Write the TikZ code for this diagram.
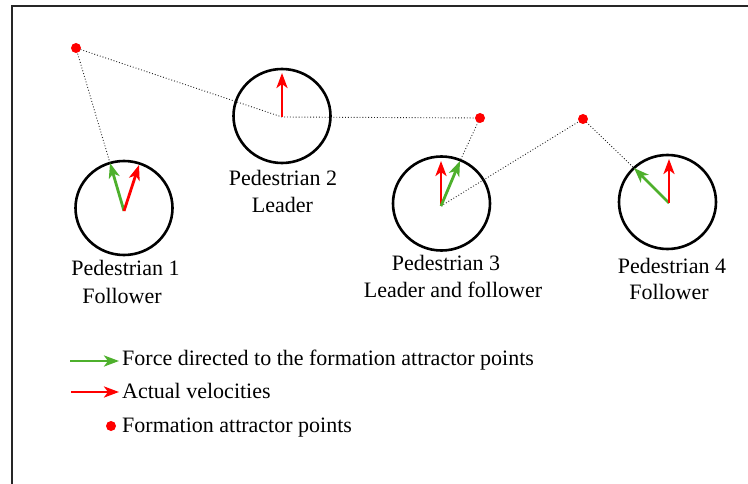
\documentclass[tikz,border=0pt]{standalone}
\usepackage{fontspec}
\setmainfont{Liberation Serif}
\usetikzlibrary{arrows.meta,shapes.geometric}
\definecolor{fgreen}{RGB}{78,176,44}
\definecolor{fred}{RGB}{255,0,0}
\tikzset{
  ped/.style={draw=black,line width=2.6pt,ellipse,minimum width=97pt,minimum height=94pt,inner sep=0pt},
  attr/.style={circle,fill=fred,inner sep=0pt,minimum size=10pt},
  link/.style={dotted,line width=0.9pt,black!85},
  force/.style={draw=fgreen,line width=2.8pt,-{Stealth[length=15pt,width=11pt,inset=4pt]}},
  vel/.style={draw=fred,line width=2.8pt,-{Stealth[length=15pt,width=11pt,inset=4pt]}},
  lbl/.style={anchor=base,inner sep=0pt,font=\fontsize{22}{26}\selectfont},
  leg/.style={anchor=base west,inner sep=0pt,font=\fontsize{22}{26}\selectfont},
  frame/.style={line width=2pt,black!85}
}
\begin{document}
\begin{tikzpicture}[x=1pt,y=-1pt]
\useasboundingbox (0,0) rectangle (748,484);
% frame
\coordinate (fl) at (12,484);
\coordinate (fc) at (12,6);
\coordinate (fr) at (748,6);
\draw[frame] (fl) -- (fc) -- (fr);

% pedestrians
\node[ped] (p1) at (124,208) {};
\node[ped] (p2) at (282,116) {};
\node[ped] (p3) at (441.5,203.5) {};
\node[ped] (p4) at (667.5,202) {};

% origins and tips
\coordinate (o1) at (124,211);
\coordinate (g1) at (110,163);
\coordinate (r1) at (139,165);
\coordinate (o2) at (282,117);
\coordinate (r2) at (282,73);
\coordinate (o3) at (441,206);
\coordinate (g3) at (460,161);
\coordinate (r3) at (441,161);
\coordinate (o4) at (669,203);
\coordinate (g4) at (634,168);
\coordinate (r4) at (669,159);

% attractor points
\coordinate (a1c) at (76,48);
\coordinate (a2c) at (480,118);
\coordinate (a3c) at (583,119);

% dotted links
\draw[link] (g1) -- (a1c) -- (o2) -- (a2c) -- (g3);
\draw[link] (o3) -- (a3c) -- (g4);

\node[attr] (a1) at (a1c) {};
\node[attr] (a2) at (a2c) {};
\node[attr] (a3) at (a3c) {};

% vectors
\draw[force] (o1) -- (g1);
\draw[vel] (o1) -- (r1);
\draw[vel] (o2) -- (r2);
\draw[vel] (o3) -- (r3);
\draw[force] (o3) -- (g3);
\draw[force] (o4) -- (g4);
\draw[vel] (o4) -- (r4);

% labels
\node[lbl] (t1a) at (125.5,276) {Pedestrian 1};
\node[lbl] (t1b) at (122,303) {Follower};
\node[lbl] (t2a) at (283,186) {Pedestrian 2};
\node[lbl] (t2b) at (282.5,213) {Leader};
\node[lbl] (t3a) at (446,270) {Pedestrian 3};
\node[lbl] (t3b) at (453,298) {Leader and follower};
\node[lbl] (t4a) at (672,273) {Pedestrian 4};
\node[lbl] (t4b) at (669,300) {Follower};

% legend
\coordinate (lg0) at (70,361);
\coordinate (lg1) at (119,361);
\coordinate (lr0) at (71,392);
\coordinate (lr1) at (119,392);
\draw[force] (lg0) -- (lg1);
\draw[vel] (lr0) -- (lr1);
\node[attr] (ld) at (111,426) {};
\node[leg] (l1) at (122,365) {Force directed to the formation attractor points};
\node[leg] (l2) at (122,398) {Actual velocities};
\node[leg] (l3) at (122,432) {Formation attractor points};
\end{tikzpicture}
\end{document}
